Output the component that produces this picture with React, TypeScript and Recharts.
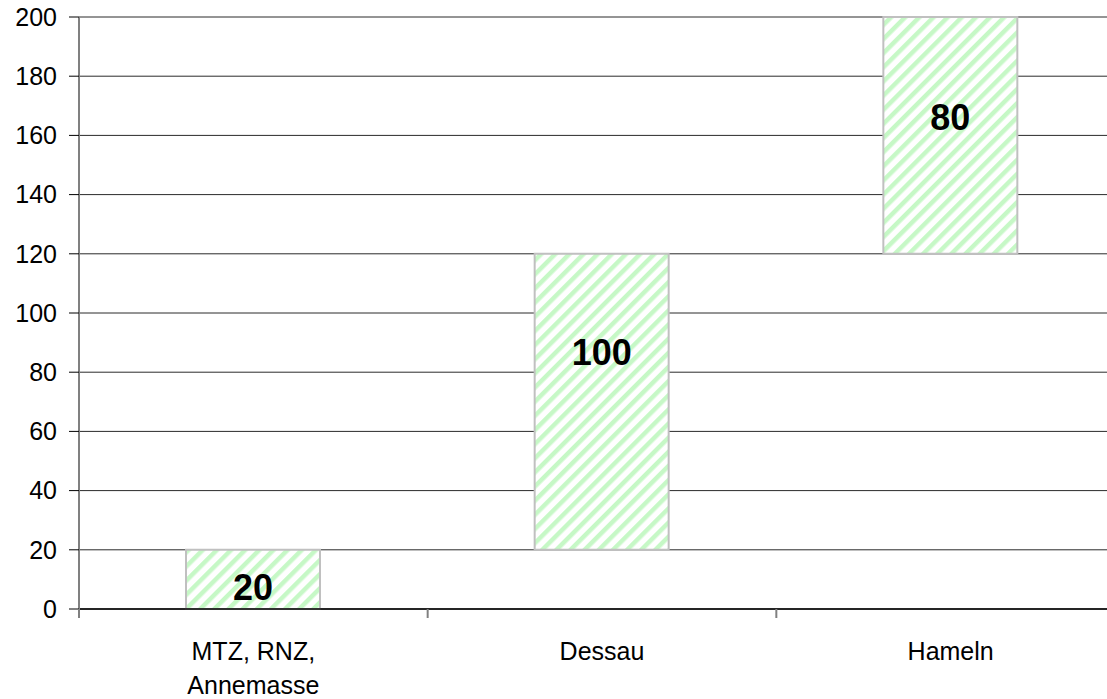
import React from 'react'
import { BarChart, Bar, XAxis, YAxis, CartesianGrid, LabelList } from 'recharts'

const categories = ['MTZ, RNZ,\nAnnemasse', 'Dessau', 'Hameln']
const bases = [0, 20, 120]
const values = [20, 100, 80]
const yTicks = [0, 20, 40, 60, 80, 100, 120, 140, 160, 180, 200]

const data = categories.map((name, i) => ({ name, base: bases[i], value: values[i] }))

// the reference nudges its labels away from the bar centres
const labelShift = [8, -49, -18]

const FONT = '"Liberation Sans", Arial, sans-serif'

function CategoryTick(props: any) {
  const { x, y, payload } = props
  const half = payload?.offset ?? 174
  const lines = String(payload.value).split('\n')
  return (
    <g>
      <line x1={x - half} x2={x - half} y1={y} y2={y + 9} stroke="#808080" strokeWidth={2} />
      <text x={x} y={y + 51} textAnchor="middle" fontSize={25} fontFamily={FONT} fill="#000">
        {lines.map((l, i) => (
          <tspan key={i} x={x} dy={i === 0 ? 0 : 34}>
            {l}
          </tspan>
        ))}
      </text>
    </g>
  )
}

function ValueLabel(props: any) {
  const { x, y, width, height, value, index } = props
  return (
    <text
      x={x + width / 2}
      y={y + height / 2 + (labelShift[index] ?? 0)}
      textAnchor="middle"
      dominantBaseline="central"
      fontSize={36}
      fontWeight="bold"
      fontFamily={FONT}
      fill="#000"
    >
      {value}
    </text>
  )
}

export default function App() {
  return (
    <div style={{ position: 'absolute', left: 0, top: 0, width: 1107, height: 699, overflow: 'hidden', background: '#fff' }}>
      <BarChart width={1125} height={699} data={data} margin={{ top: 17, right: 0, bottom: 0, left: 0 }}>
        <defs>
          <pattern id="hatch" patternUnits="userSpaceOnUse" width={10} height={10} patternTransform="rotate(45)">
            <rect width={10} height={10} fill="#fff" />
            <rect width={4.5} height={10} fill="#c6f8c6" />
          </pattern>
        </defs>
        <CartesianGrid vertical={false} stroke="#2a2a2a" strokeWidth={1} />
        <XAxis
          dataKey="name"
          height={90}
          interval={0}
          tickLine={false}
          tickSize={0}
          tickMargin={0}
          axisLine={{ stroke: '#000', strokeWidth: 1.5 }}
          tick={<CategoryTick />}
        />
        <YAxis
          width={79}
          domain={[0, 200]}
          ticks={yTicks}
          interval={0}
          tickSize={10}
          tickMargin={12}
          tickLine={{ stroke: '#000' }}
          axisLine={{ stroke: '#808080', strokeWidth: 2 }}
          tick={{ fontSize: 25, fontFamily: FONT, fill: '#000' }}
        />
        <Bar dataKey="base" stackId="w" fill="transparent" barSize={134} isAnimationActive={false} />
        <Bar dataKey="value" stackId="w" fill="url(#hatch)" stroke="#c0c0c0" strokeWidth={2} barSize={134} isAnimationActive={false}>
          <LabelList dataKey="value" content={<ValueLabel />} />
        </Bar>
      </BarChart>
    </div>
  )
}
